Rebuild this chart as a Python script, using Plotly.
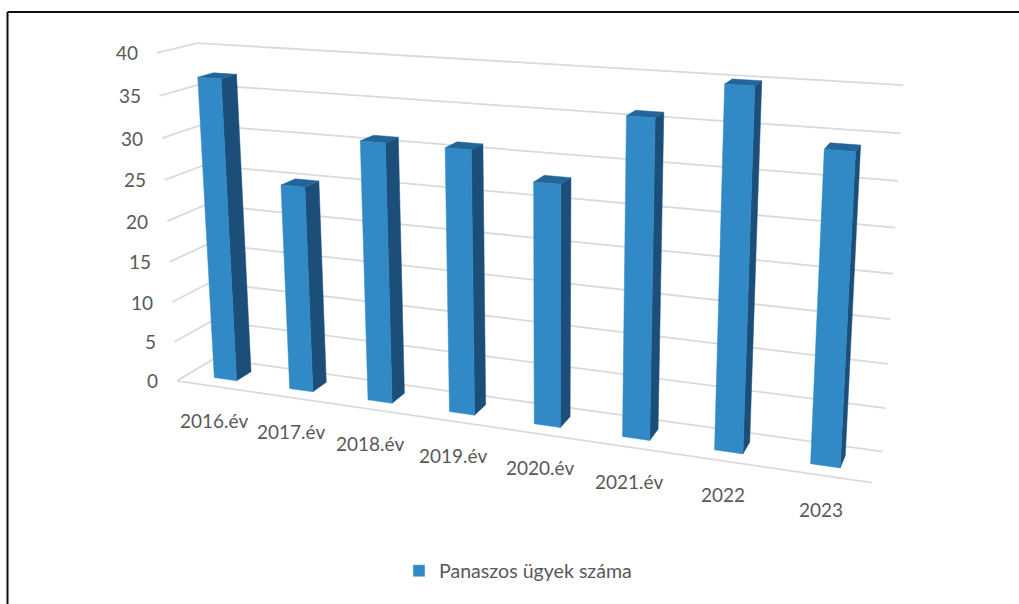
import numpy as np
import plotly.graph_objects as go

categories = ["2016.év", "2017.év", "2018.év", "2019.év", "2020.év", "2021.év", "2022", "2023"]
values = [37, 25, 31, 31, 28, 36, 40, 34]
ticks = [0, 5, 10, 15, 20, 25, 30, 35, 40]
series_name = "Panaszos ügyek száma"

W, H = 1019, 604
BAR_W, Y0, Y1 = 0.30, 0.30, 0.70
FRONT, SIDE, TOP = "#3189c6", "#1b4f7a", "#236499"
GRID, TEXT = "#dadada", "#595959"

# Oblique 3-D frame of the chart: (category pos, depth, value) <-> page position
frame = [
    (0,0,40,157,53),(0,0,35,160,96),(0,0,30,162,138),(0,0,25,165,180),(0,0,20,167,221),
    (0,0,5,174,342),(0,0,0,177,381),(0,1,40,197,43),(0,1,0,215,358),
    (8,1,40,903,85),(8,1,35,901,133),(8,1,30,898,181),(8,1,25,895,228),(8,1,20,893,274),
    (8,1,5,885,408),(8,1,0,883,452),(8,0,0,872,482),
]
F = np.array(frame, float)
def solve_camera():
    rows = []
    for x, y, z, u, v in F:
        a = [x/8, y, z/40, 1]
        u, v = u/1000, v/1000
        rows.append(a + [0]*4 + [-u*t for t in a])
        rows.append([0]*4 + a + [-v*t for t in a])
    return np.linalg.svd(np.array(rows))[2][-1].reshape(3, 4)
CAM = solve_camera()
def project(x, y, z):
    h = CAM @ np.array([x/8, y, z/40, 1.0])
    return float(h[0]/h[2]*1000), float(h[1]/h[2]*1000)

def path(points):
    pairs = [project(*p) for p in points]
    return [p[0] for p in pairs], [p[1] for p in pairs]

def polys(face):
    xs, ys = [], []
    for n, v in enumerate(values):
        a, b = path(face(n + .5 - BAR_W/2, n + .5 + BAR_W/2, v))
        xs += a + a[:1] + [None]; ys += b + b[:1] + [None]
    return xs, ys

front = lambda x0, x1, v: [(x0,Y0,0),(x1,Y0,0),(x1,Y0,v),(x0,Y0,v)]
side = lambda x0, x1, v: [(x1,Y0,0),(x1,Y1,0),(x1,Y1,v),(x1,Y0,v)]
top = lambda x0, x1, v: [(x0,Y0,v),(x1,Y0,v),(x1,Y1,v),(x0,Y1,v)]

fig = go.Figure()
gx, gy = [], []
for t in ticks:
    a, b = path([(0,0,t),(0,1,t),(8,1,t)])
    gx += a + [None]; gy += b + [None]
a, b = path([(0,0,0),(8,0,0)])
gx += a + [None]; gy += b + [None]
fig.add_trace(go.Scatter(x=gx, y=gy, mode="lines", line=dict(color=GRID, width=1.8), showlegend=False, hoverinfo="skip"))
for face, col in ((side, SIDE), (top, TOP), (front, FRONT)):
    xs, ys = polys(face)
    fig.add_trace(go.Scatter(x=xs, y=ys, mode="lines", fill="toself", fillcolor=col, line=dict(color=col, width=0.5),
                             showlegend=False, hoverinfo="skip"))
fig.add_trace(go.Bar(x=[None], y=[None], name=series_name, marker_color=FRONT, showlegend=True))

font = dict(family="Lato", size=19, color=TEXT)
ann = []
for t in ticks:
    px, py = project(0, 0, t)
    ann.append(dict(x=px, y=py, text=str(t), showarrow=False, xanchor="right", yanchor="middle", xshift=-17, font=font))
for i, c in enumerate(categories):
    px, py = project(i + .5, 0, 0)
    ann.append(dict(x=px, y=py, text=c, showarrow=False, xanchor="center", yanchor="middle", yshift=-34, font=font))

hidden = dict(visible=False, showgrid=False, zeroline=False, fixedrange=True)
fig.update_layout(width=W, height=H, margin=dict(l=0, r=0, t=0, b=0), paper_bgcolor="white", plot_bgcolor="white",
    xaxis=dict(range=[0, W], **hidden), yaxis=dict(range=[H, 0], **hidden),
    annotations=ann, showlegend=True,
    legend=dict(x=399/W, y=1-571/H, xanchor="left", yanchor="middle", font=dict(family="Lato", size=19.6, color=TEXT), bgcolor="rgba(0,0,0,0)"),
    shapes=[dict(type="line", xref="paper", yref="paper", x0=7.5/W, x1=1, y0=1-12/H, y1=1-12/H, line=dict(color="#111111", width=2)),
            dict(type="line", xref="paper", yref="paper", x0=7.5/W, x1=7.5/W, y0=0, y1=1-12/H, line=dict(color="#111111", width=2))])
fig.write_html("out.html", config=dict(displayModeBar=False), post_script="document.body.style.margin='0';")
